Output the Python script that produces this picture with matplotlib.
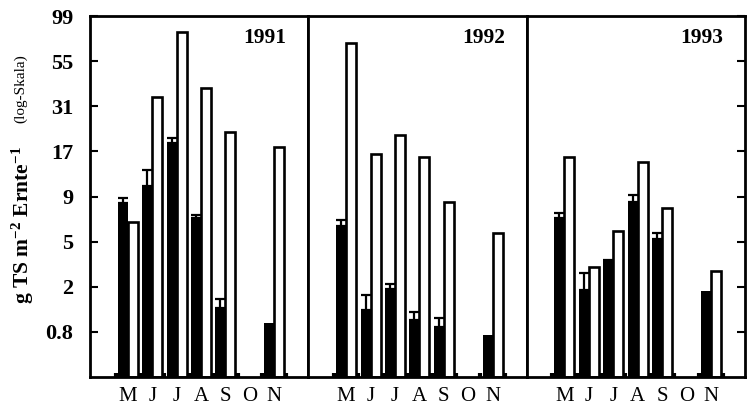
import numpy as np
import matplotlib.pyplot as plt

plt.rcParams['font.family'] = ['Liberation Serif', 'DejaVu Serif']
plt.rcParams['mathtext.fontset'] = 'custom'
plt.rcParams['mathtext.bf'] = 'Liberation Serif:bold'
plt.rcParams['mathtext.rm'] = 'Liberation Serif:bold'
plt.rcParams['mathtext.default'] = 'bf'

# data, nan = no harvest that month
months = ['M', 'J', 'J', 'A', 'S', 'O', 'N']
years = ['1991', '1992', '1993']

filled_1991 = [8.2, 10.5, 18.7, 6.6, 1.4, np.nan, 1.0]
filled_top_1991 = [8.8, 13.0, 20.0, 6.9, 1.7, np.nan, np.nan]   # upper end of error bar
open_1991 = [6.2, 34.4, 81.0, 39.0, 21.7, np.nan, 17.7]

filled_1992 = [5.9, 1.35, 2.07, 1.07, 0.89, np.nan, 0.71]
filled_top_1992 = [6.4, 1.84, 2.27, 1.29, 1.12, np.nan, np.nan]
open_1992 = [69.5, 16.1, 20.8, 15.5, 8.3, np.nan, 5.3]

filled_1993 = [6.6, 2.03, 3.33, 8.3, 4.8, np.nan, 1.99]
filled_top_1993 = [7.1, 2.76, 3.45, 9.2, 5.3, np.nan, np.nan]
open_1993 = [15.5, 3.06, 5.43, 14.5, 7.6, np.nan, 2.86]

ytick_labels = ['0.8', '2', '5', '9', '17', '31', '55', '99']

filled = [filled_1991, filled_1992, filled_1993]
filled_top = [filled_top_1991, filled_top_1992, filled_top_1993]
opened = [open_1991, open_1992, open_1993]


def fwd(v):
    return np.log10(np.maximum(np.asarray(v, dtype=float), -0.999) + 1)


def inv(t):
    return 10 ** np.asarray(t, dtype=float) - 1


fig, axes = plt.subplots(1, 3, figsize=(7.49, 4.12), dpi=100, sharey=True,
                         gridspec_kw=dict(wspace=0))
fig.subplots_adjust(left=90 / 749, right=745 / 749, bottom=1 - 377 / 412, top=1 - 16 / 412)

x = np.arange(len(months))
w = 0.41
for i, ax in enumerate(axes):
    ax.set_yscale('function', functions=(fwd, inv))
    blk = np.array(filled[i])
    top = np.array(filled_top[i])
    wht = np.array(opened[i])

    ax.bar(x - w / 2, blk, width=w, color='black', linewidth=0, zorder=2)
    ok = ~np.isnan(top)
    ax.errorbar((x - w / 2)[ok], blk[ok], yerr=[np.zeros(ok.sum()), (top - blk)[ok]],
                fmt='none', ecolor='black', elinewidth=1.6, capsize=3.8, capthick=1.6, zorder=3)
    ax.bar(x + w / 2, wht, width=w, color='white', edgecolor='black', linewidth=1.9, zorder=2)

    ax.set_xlim(-1.55, 7.4)
    ax.set_ylim(0, 99)
    ax.set_xticks(x, months)
    ax.set_xticks(np.arange(-0.5, len(months)), minor=True)
    ax.tick_params(axis='x', which='major', length=0, pad=7, labelsize=15)
    ax.tick_params(axis='x', which='minor', direction='in', length=3.2, width=3)

    ax.set_yticks(inv(0.25 * np.arange(1, 9)), ytick_labels)
    ax.yaxis.set_minor_locator(plt.NullLocator())
    ax.tick_params(axis='y', which='both', left=False, right=False,
                   labelleft=False, labelright=False)
    for s in ax.spines.values():
        s.set_linewidth(2.0)

    ax.text(0.9, 0.967, years[i], transform=ax.transAxes, ha='right', va='top',
            fontsize=15.5, fontweight='bold')

axes[0].tick_params(axis='y', left=True, labelleft=True, direction='in', length=6,
                    width=1.5, pad=12, labelsize=16)
for lab in axes[0].get_yticklabels():
    lab.set_fontweight('bold')
axes[2].tick_params(axis='y', right=True, direction='in', length=6, width=1.5)

fig.text(23 / 749, 1 - 225 / 412, 'g TS m$^{-2}$ Ernte$^{-1}$', rotation=90,
         ha='center', va='center', fontsize=15.5, fontweight='bold')
fig.text(21 / 749, 1 - 89 / 412, '(log-Skala)', rotation=90,
         ha='center', va='center', fontsize=11)

fig.savefig('out.png', dpi=100)
